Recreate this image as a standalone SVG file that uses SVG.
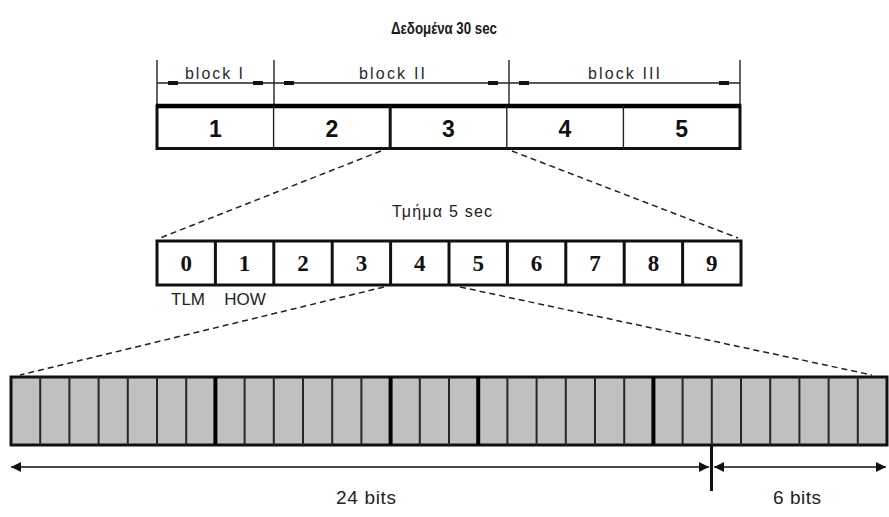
<svg xmlns="http://www.w3.org/2000/svg" width="889" height="517" viewBox="0 0 889 517">
  <style>
    .bg { fill: #ffffff; }
    .title { font-family: "Liberation Sans", Arial, sans-serif; font-weight: bold; font-size: 17px; fill: #1a1a1a; text-anchor: middle; }
    .lbl { font-family: "Liberation Sans", Arial, sans-serif; font-size: 16px; fill: #2a2a2a; text-anchor: middle; }
    .big { font-family: "Liberation Sans", Arial, sans-serif; font-weight: bold; font-size: 23px; fill: #111111; text-anchor: middle; }
    .mid { font-family: "Liberation Serif", "Times New Roman", serif; font-weight: bold; font-size: 23px; fill: #111111; text-anchor: middle; }
    .small { font-family: "Liberation Sans", Arial, sans-serif; font-size: 17px; fill: #222222; text-anchor: middle; }
    .sub { font-family: "Liberation Sans", Arial, sans-serif; font-size: 16px; fill: #222222; text-anchor: middle; }
    .dimtxt { font-family: "Liberation Sans", Arial, sans-serif; font-size: 19px; fill: #222222; text-anchor: middle; }
    .frame { fill: #ffffff; stroke: #111111; stroke-width: 3; }
    .thin { stroke: #222222; stroke-width: 1.4; fill: none; }
    .thick { stroke: #111111; stroke-width: 3; fill: none; }
    .bold { stroke: #000000; stroke-width: 4.5; fill: none; }
    .cell { stroke: #262626; stroke-width: 2; }
    .grey { fill: #c0c0c0; stroke: #111111; stroke-width: 3; }
    .dash { stroke: #222222; stroke-width: 1.5; stroke-dasharray: 6 4; fill: none; }
    .tickmark { fill: #111111; }
    .dimline { stroke: #111111; stroke-width: 1.5; fill: none; marker-start: url(#arr); marker-end: url(#arr); }
  </style>
  <defs>
    <marker id="arr" viewBox="0 0 10 10" refX="10" refY="5" markerWidth="12" markerHeight="10" markerUnits="userSpaceOnUse" orient="auto-start-reverse">
      <path d="M0,0 L10,5 L0,10 z" fill="#111111"/>
    </marker>
  </defs>

  <rect class="bg" x="0" y="0" width="889" height="517"/>

  <!-- heading -->
  <g id="title">
    <text class="title" x="444" y="34" textLength="106" lengthAdjust="spacingAndGlyphs">Δεδομένα 30 sec</text>
  </g>

  <!-- block dimension marks above the 30 s frame -->
  <g id="blocks">
    <line class="thin" x1="157" y1="60" x2="157" y2="106"/>
    <line class="thin" x1="274" y1="60" x2="274" y2="106"/>
    <line class="thin" x1="509" y1="60" x2="509" y2="106"/>
    <line class="thin" x1="740" y1="60" x2="740" y2="106"/>
    <line class="thin" x1="157" y1="83" x2="740" y2="83"/>
    <rect class="tickmark" x="168" y="81" width="10" height="4"/>
    <rect class="tickmark" x="253" y="81" width="10" height="4"/>
    <rect class="tickmark" x="284" y="81" width="10" height="4"/>
    <rect class="tickmark" x="488" y="81" width="10" height="4"/>
    <rect class="tickmark" x="519" y="81" width="10" height="4"/>
    <rect class="tickmark" x="719" y="81" width="10" height="4"/>
    <text class="lbl" x="214" y="79" textLength="58" lengthAdjust="spacing">block I</text>
    <text class="lbl" x="392" y="79" textLength="66" lengthAdjust="spacing">block II</text>
    <text class="lbl" x="624" y="79" textLength="72" lengthAdjust="spacing">block III</text>
  </g>

  <!-- 30 s frame: five subframes -->
  <g id="frame">
    <rect class="frame" x="157" y="106" width="583" height="42.5"/>
    <line class="bold" x1="156" y1="106" x2="741" y2="106"/>
    <line class="thin" x1="273.6" y1="106" x2="273.6" y2="148.5"/>
    <line class="thick" x1="390.2" y1="106" x2="390.2" y2="148.5"/>
    <line class="thin" x1="506.8" y1="106" x2="506.8" y2="148.5"/>
    <line class="thin" x1="623.4" y1="106" x2="623.4" y2="148.5"/>
    <text class="big" x="215.3" y="137">1</text>
    <text class="big" x="332" y="137">2</text>
    <text class="big" x="448.5" y="137">3</text>
    <text class="big" x="565" y="137">4</text>
    <text class="big" x="681.7" y="137">5</text>
  </g>

  <!-- 5 s subframe: ten words -->
  <g id="subframe">
    <text class="sub" x="442" y="217" textLength="100" lengthAdjust="spacing">Τμήμα 5 sec</text>
    <rect class="frame" x="157" y="241" width="584" height="44"/>
    <g class="thick">
      <line x1="215.4" y1="241" x2="215.4" y2="285"/>
      <line x1="273.8" y1="241" x2="273.8" y2="285"/>
      <line x1="332.2" y1="241" x2="332.2" y2="285"/>
      <line x1="390.6" y1="241" x2="390.6" y2="285"/>
      <line x1="449" y1="241" x2="449" y2="285"/>
      <line x1="507.4" y1="241" x2="507.4" y2="285"/>
      <line x1="565.8" y1="241" x2="565.8" y2="285"/>
      <line x1="624.2" y1="241" x2="624.2" y2="285"/>
      <line x1="682.6" y1="241" x2="682.6" y2="285"/>
    </g>
    <text class="mid" x="186.2" y="271">0</text>
    <text class="mid" x="244.6" y="271">1</text>
    <text class="mid" x="303" y="271">2</text>
    <text class="mid" x="361.4" y="271">3</text>
    <text class="mid" x="419.8" y="271">4</text>
    <text class="mid" x="478.2" y="271">5</text>
    <text class="mid" x="536.6" y="271">6</text>
    <text class="mid" x="595" y="271">7</text>
    <text class="mid" x="653.4" y="271">8</text>
    <text class="mid" x="711.8" y="271">9</text>
    <text class="small" x="188" y="305">TLM</text>
    <text class="small" x="245" y="305">HOW</text>
  </g>

  <!-- word: 30 bits -->
  <g id="word">
    <rect class="grey" x="11" y="377" width="876" height="68"/>
    <g class="cell">
      <line x1="40.2" y1="377" x2="40.2" y2="445"/>
      <line x1="69.4" y1="377" x2="69.4" y2="445"/>
      <line x1="98.6" y1="377" x2="98.6" y2="445"/>
      <line x1="127.8" y1="377" x2="127.8" y2="445"/>
      <line x1="157" y1="377" x2="157" y2="445"/>
      <line x1="186.2" y1="377" x2="186.2" y2="445"/>
      <line x1="244.6" y1="377" x2="244.6" y2="445"/>
      <line x1="273.8" y1="377" x2="273.8" y2="445"/>
      <line x1="303" y1="377" x2="303" y2="445"/>
      <line x1="332.2" y1="377" x2="332.2" y2="445"/>
      <line x1="361.4" y1="377" x2="361.4" y2="445"/>
      <line x1="419.8" y1="377" x2="419.8" y2="445"/>
      <line x1="449" y1="377" x2="449" y2="445"/>
      <line x1="507.4" y1="377" x2="507.4" y2="445"/>
      <line x1="536.6" y1="377" x2="536.6" y2="445"/>
      <line x1="565.8" y1="377" x2="565.8" y2="445"/>
      <line x1="595" y1="377" x2="595" y2="445"/>
      <line x1="624.2" y1="377" x2="624.2" y2="445"/>
      <line x1="682.6" y1="377" x2="682.6" y2="445"/>
      <line x1="711.8" y1="377" x2="711.8" y2="445"/>
      <line x1="741" y1="377" x2="741" y2="445"/>
      <line x1="770.2" y1="377" x2="770.2" y2="445"/>
      <line x1="799.4" y1="377" x2="799.4" y2="445"/>
      <line x1="828.6" y1="377" x2="828.6" y2="445"/>
      <line x1="857.8" y1="377" x2="857.8" y2="445"/>
    </g>
    <g class="bold" style="stroke-width:4">
      <line x1="215.4" y1="377" x2="215.4" y2="445"/>
      <line x1="390.6" y1="377" x2="390.6" y2="445"/>
      <line x1="478.2" y1="377" x2="478.2" y2="445"/>
      <line x1="653.4" y1="377" x2="653.4" y2="445"/>
    </g>
  </g>

  <!-- bit-count dimensions -->
  <g id="bitcount">
    <line class="dimline" x1="11" y1="467" x2="709" y2="467"/>
    <line class="dimline" x1="714" y1="467" x2="886" y2="467"/>
    <line class="thick" x1="711.5" y1="445" x2="711.5" y2="491"/>
    <text class="dimtxt" x="366" y="504" textLength="60" lengthAdjust="spacing">24 bits</text>
    <text class="dimtxt" x="797" y="504" textLength="48" lengthAdjust="spacing">6 bits</text>
  </g>

  <!-- zoom-in connectors -->
  <g id="connectors">
    <line class="dash" x1="381" y1="151" x2="160" y2="238"/>
    <line class="dash" x1="512" y1="151" x2="738" y2="238"/>
    <line class="dash" x1="384" y1="287" x2="20" y2="375"/>
    <line class="dash" x1="460" y1="287" x2="872" y2="375"/>
  </g>
</svg>
